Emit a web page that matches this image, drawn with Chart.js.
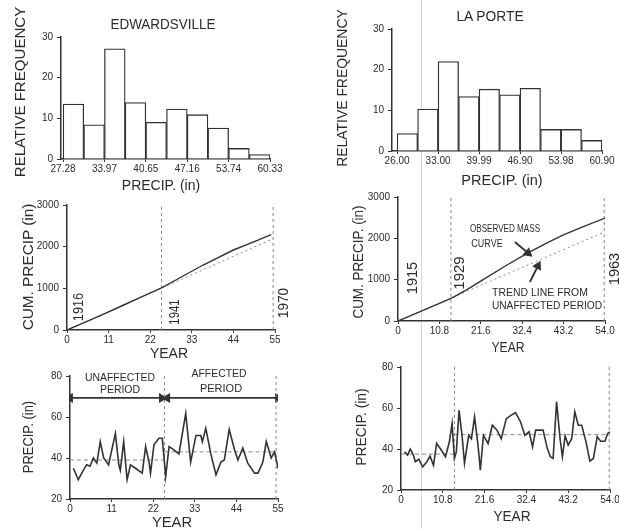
<!DOCTYPE html>
<html>
<head>
<meta charset="utf-8">
<script src="https://cdn.jsdelivr.net/npm/chart.js@4.4.1/dist/chart.umd.min.js"></script>
<style>
  html, body { margin: 0; padding: 0; background: #fff; width: 619px; height: 529px; overflow: hidden; }
  canvas { position: absolute; }
  .t { position: absolute; white-space: nowrap; font-family: "Liberation Sans", Arial, sans-serif; color: #2b2b2b; line-height: 1; }
  .scan { position: absolute; left: 421px; top: 0; width: 1px; height: 529px; background: #d6d6d6; }
</style>
</head>
<body>
<div class="scan"></div>
<script>
// ---- histograms (relative frequency, %) ----
const binIndex = [0, 1, 2, 3, 4, 5, 6, 7, 8, 9];
const edwFreq = [13.5, 8.4, 27.1, 13.9, 9.0, 12.3, 10.9, 7.6, 2.6, 1.1];
const edwBinLabels = ["27.28", "33.97", "40.65", "47.16", "53.74", "60.33"];
const lapFreq = [4.3, 10.3, 22.0, 13.4, 15.2, 13.8, 15.4, 5.3, 5.3, 2.6];
const lapBinLabels = ["26.00", "33.00", "39.99", "46.90", "53.98", "60.90"];
const binTicks = [0, 2, 4, 6, 8, 10];

// ---- mass curves (cumulative precip, in) ----
const edwCumYears = [0, 5, 10, 15, 20, 25, 30, 36, 44, 50, 54];
const edwCum = [0, 195, 395, 600, 805, 1010, 1260, 1560, 1920, 2140, 2290];
const edwTrendYears = [0, 54];
const edwTrend = [0, 2170];
const lapCumYears = [0, 7, 14, 18, 22, 28, 33.9, 38.5, 43, 48.5, 54];
const lapCum = [0, 275, 556, 760, 990, 1330, 1650, 1870, 2080, 2290, 2490];
const lapTrendYears = [0, 54];
const lapTrend = [0, 2160];

// ---- annual precip (in) ----
const edwYears = [0.9, 2.2, 3.5, 4.4, 5.3, 6.2, 7.1, 8.0, 8.9, 10.2, 12.0, 12.9, 13.3, 14.2, 15.1, 16.0, 17.3, 19.1, 20.0, 20.9, 21.3, 22.2, 23.5, 24.4, 25.3, 26.2, 27.5, 28.8, 30.6, 31.9, 33.3, 34.6, 35.0, 35.9, 37.3, 38.6, 39.9, 40.8, 42.1, 43.5, 44.4, 45.7, 47.0, 48.8, 49.7, 51.0, 51.9, 53.2, 54.1, 55.0];
const edwPrecip = [35, 29.4, 34, 36.7, 36, 40, 37.5, 48, 40, 36.7, 52, 36.7, 34, 48, 29.4, 36.7, 35, 32.6, 45.6, 38, 32.6, 46.4, 49.6, 49.6, 31, 45.6, 44, 42, 61.7, 38, 51, 51, 48, 54.5, 41.5, 31.8, 38, 39, 54, 44, 39, 44.8, 37.5, 32.6, 32.6, 38, 48, 40, 43, 35];
const lapYears = [0.9, 1.7, 2.4, 3.2, 3.7, 4.6, 5.6, 6.7, 7.5, 8.4, 9.2, 10.4, 11.5, 12.5, 13.2, 13.8, 14.3, 15.0, 15.8, 16.4, 17.5, 18.2, 19.0, 19.9, 20.5, 21.3, 22.5, 23.6, 24.8, 25.9, 27.2, 28.5, 29.6, 30.9, 32.0, 33.1, 34.0, 34.8, 36.7, 37.8, 38.6, 39.3, 40.2, 41.1, 41.7, 42.4, 43.2, 44.1, 44.9, 45.8, 46.7, 47.8, 48.8, 49.7, 50.7, 51.6, 52.7, 53.4, 54.0];
const lapPrecip = [38.6, 37, 40, 37, 33.8, 35, 31.3, 33.8, 36.5, 32, 42.7, 39.5, 36.2, 43.5, 52.4, 35.4, 38.6, 58.9, 46, 33, 46.7, 45, 55.7, 41.9, 29.7, 46.7, 42.7, 51.6, 49.2, 45, 54.8, 56.5, 57.8, 53.2, 46.7, 48.4, 41.1, 49.2, 49.2, 40.3, 36.2, 35.4, 63, 45, 36.2, 46.4, 41.9, 45, 58.1, 51.6, 51.6, 43.5, 34.1, 35.4, 46, 43.8, 43.8, 47.6, 48.4];

// period boundaries and means
const edwBreak = 25, edwEnd = 54.5;
const lapBreak = 13.8, lapEnd = 53.8;
const edwMeans = [39, 43];
const lapMeans = [37.5, 47];
const periodArrowY = 69.3;
const unaffectedSpan = [0, 24.3];
const affectedSpan = [25.7, 55];

// tick labels
const edwYearTicks = [0, 11, 22, 33, 44, 55];
const lapYearTicks = [0, 10.8, 21.6, 32.4, 43.2, 54];
const lapYearLabels = ["0", "10.8", "21.6", "32.4", "43.2", "54.0"];

// annotation arrows on La Porte mass curve: [x0, y0, x1, y1, head rotation]
const massArrows = [[30.5, 1911, 33.9, 1645, 130], [34.4, 944, 36.5, 1331, 27]];

const F = "'Liberation Sans', Arial, sans-serif";
const INK = "#2b2b2b";
const YW = 45, XH = 20, PT = 10, PR = 22;

function pts(xs, ys) { return xs.map((x, i) => ({ x: x, y: ys[i] })); }

function label(text, cx, cy, size, width, rot) {
  const d = document.createElement("div");
  d.className = "t";
  d.textContent = text;
  d.style.fontSize = size + "px";
  document.body.appendChild(d);
  const s = width ? width / d.offsetWidth : 1;
  d.style.left = cx + "px";
  d.style.top = cy + "px";
  d.style.transform = "translate(-50%,-50%) rotate(" + (rot || 0) + "deg) scaleX(" + s + ")";
}

function xAxis(min, max, ticks, labels) {
  return {
    type: "linear", min: min, max: max, offset: false,
    afterFit: (s) => { s.height = XH; },
    afterBuildTicks: (s) => { s.ticks = ticks.map((v) => ({ value: v })); },
    ticks: { autoSkip: false, maxRotation: 0, padding: 1, color: INK, font: { size: 10, family: F },
      callback: (v, i) => labels[i] },
    grid: { display: true, offset: false, drawOnChartArea: false, tickLength: 3, color: "#333" },
    border: { display: true, color: "#333", width: 1.5 }
  };
}

function yAxis(min, max, step) {
  return {
    type: "linear", min: min, max: max,
    afterFit: (s) => { s.width = YW; },
    ticks: { stepSize: step, padding: 4, color: INK, font: { size: 10, family: F },
      callback: (v) => String(v) },
    grid: { display: true, drawOnChartArea: false, tickLength: 4, color: "#333" },
    border: { display: true, color: "#333", width: 1.5 }
  };
}

function panel(box, type, datasets, scales) {
  const c = document.createElement("canvas");
  c.width = YW + (box.r - box.l) + PR;
  c.height = PT + (box.b - box.t) + XH;
  c.style.left = (box.l - YW) + "px";
  c.style.top = (box.t - PT) + "px";
  document.body.appendChild(c);
  return new Chart(c, {
    type: type,
    data: { datasets: datasets },
    options: {
      responsive: false, animation: false,
      layout: { padding: { top: PT, right: PR, left: 0, bottom: 0 } },
      plugins: { legend: { display: false }, tooltip: { enabled: false } },
      scales: scales
    }
  });
}

function hist(values) {
  return { type: "bar", data: pts(binIndex.map((i) => i + 0.5), values),
    backgroundColor: "#fff", borderColor: "#333", borderWidth: 1.3,
    barPercentage: 1, categoryPercentage: 1 };
}
function solid(xs, ys, w) {
  return { type: "scatter", showLine: true, data: pts(xs, ys), borderColor: "#333",
    borderWidth: w || 1.4, pointRadius: 0, tension: 0 };
}
function dashed(xs, ys, dash) {
  return { type: "scatter", showLine: true, data: pts(xs, ys), borderColor: "#8a8a8a",
    borderWidth: 1, borderDash: dash || [3, 3], pointRadius: 0 };
}
function vline(x, lo, hi) { return dashed([x, x], [lo, hi], [3, 3]); }
function arrow(xs, ys, rots) {
  return { type: "scatter", showLine: true, data: pts(xs, ys), borderColor: "#333",
    borderWidth: 1.8, pointStyle: "triangle", backgroundColor: "#333", borderJoinStyle: "miter",
    pointRadius: (c) => rots[c.dataIndex] === null ? 0 : 4,
    pointRotation: (c) => rots[c.dataIndex] || 0 };
}

// 1. Edwardsville histogram
panel({ l: 61, r: 270, t: 37, b: 159 }, "bar", [hist(edwFreq)], {
  x: xAxis(-0.1, 10, binTicks, edwBinLabels), y: yAxis(0, 30, 10) });
// 2. La Porte histogram
panel({ l: 392, r: 602, t: 29, b: 151 }, "bar", [hist(lapFreq)], {
  x: xAxis(-0.25, 10, binTicks, lapBinLabels), y: yAxis(0, 30, 10) });

// 3. Edwardsville mass curve
panel({ l: 67, r: 275, t: 205, b: 330 }, "scatter", [
  solid(edwCumYears, edwCum),
  dashed(edwTrendYears, edwTrend, [2, 3]),
  vline(edwBreak, 0, 3000), vline(edwEnd, 0, 3000)
], { x: xAxis(0, 55, edwYearTicks, edwYearTicks.map(String)), y: yAxis(0, 3000, 1000) });

// 4. La Porte mass curve
panel({ l: 398, r: 605, t: 197, b: 321 }, "scatter", [
  solid(lapCumYears, lapCum),
  dashed(lapTrendYears, lapTrend, [2, 3]),
  vline(lapBreak, 0, 3000), vline(lapEnd, 0, 3000),
  ...massArrows.map((a) => arrow([a[0], a[2]], [a[1], a[3]], [null, a[4]]))
], { x: xAxis(0, 54, lapYearTicks, lapYearLabels), y: yAxis(0, 3000, 1000) });

// 5. Edwardsville annual precipitation
panel({ l: 70, r: 278, t: 376, b: 499 }, "scatter", [
  solid(edwYears, edwPrecip, 1.6),
  dashed([0, edwBreak], [edwMeans[0], edwMeans[0]], [4, 3]),
  dashed([edwBreak, edwEnd], [edwMeans[1], edwMeans[1]], [4, 3]),
  vline(edwBreak, 20, 80), vline(edwEnd, 20, 80),
  arrow(unaffectedSpan, [periodArrowY, periodArrowY], [-90, 90]),
  arrow(affectedSpan, [periodArrowY, periodArrowY], [-90, 90])
], { x: xAxis(0, 55, edwYearTicks, edwYearTicks.map(String)), y: yAxis(20, 80, 20) });

// 6. La Porte annual precipitation
panel({ l: 401, r: 610, t: 367, b: 490 }, "scatter", [
  solid(lapYears, lapPrecip, 1.6),
  dashed([0, lapBreak], [lapMeans[0], lapMeans[0]], [4, 3]),
  dashed([lapBreak, lapEnd], [lapMeans[1], lapMeans[1]], [4, 3]),
  vline(lapBreak, 20, 80), vline(lapEnd, 20, 80)
], { x: xAxis(0, 54, lapYearTicks, lapYearLabels), y: yAxis(20, 80, 20) });

// ---- text ----
label("EDWARDSVILLE", 163, 24, 14, 105);
label("LA PORTE", 490, 16, 14, 67);
label("RELATIVE FREQUENCY", 20, 92, 14, 170, -90);
label("RELATIVE FREQUENCY", 342, 88, 14, 157, -90);
label("PRECIP. (in)", 161, 185, 14, 78);
label("PRECIP. (in)", 502, 180, 14, 81);

label("CUM. PRECIP (in)", 28, 267, 14, 127, -90);
label("CUM. PRECIP. (in)", 358, 262, 14, 113, -90);
label("YEAR", 169, 353, 14, 38);
label("YEAR", 508, 347, 14, 33);
label("1916", 77, 307, 15, 28, -90);
label("1941", 173, 312, 15, 25, -90);
label("1970", 282, 303, 15, 30, -90);
label("1915", 411, 278, 15, 32, -90);
label("1929", 458, 273, 15, 33, -90);
label("1963", 613, 269, 15, 32, -90);
label("OBSERVED MASS", 505, 228, 11, 70);
label("CURVE", 487, 243, 11, 31);
label("TREND LINE FROM", 540, 292, 11, 96);
label("UNAFFECTED PERIOD", 547, 305, 11, 110);

label("PRECIP. (in)", 28, 437, 14, 72, -90);
label("PRECIP. (in)", 361, 427, 14, 77, -90);
label("YEAR", 172, 522, 14, 40);
label("YEAR", 512, 516, 14, 37);
label("UNAFFECTED", 120, 377, 11, 70);
label("PERIOD", 120, 389, 11, 40);
label("AFFECTED", 219, 373, 11, 55);
label("PERIOD", 221, 388, 11, 42);
</script>
</body>
</html>
